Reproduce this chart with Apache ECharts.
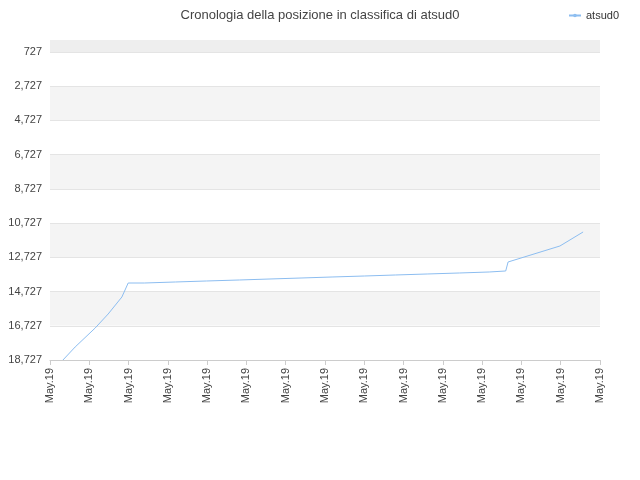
<!DOCTYPE html>
<html><head><meta charset="utf-8">
<script src="https://cdn.jsdelivr.net/npm/echarts@6/dist/echarts.min.js"></script>
</head><body style="margin:0">
<div id="c" style="width:640px;height:480px"></div>
<script>
var tickLabels = ["May.19","May.19","May.19","May.19","May.19","May.19","May.19","May.19","May.19","May.19","May.19","May.19","May.19","May.19","May.19"];
var xs = [0.33,0.64,1.15,1.48,1.83,1.99,2.4,2.42,3.19,3.21,3.98,4.0,4.82,4.84,5.6,5.62,6.39,6.41,7.18,7.2,8.0,8.02,8.79,8.81,9.6,9.62,10.42,10.44,11.18,11.2,11.6,11.66,12.98,13.57];
var ranks = [18727,17967,16857,16039,15045,14227,14227,14168,14168,14110,14110,14051,14051,13993,13993,13935,13935,13876,13876,13818,13818,13759,13759,13701,13701,13642,13642,13584,13584,13525,13525,12999,12064,11246];
var data = xs.map(function (x, i) { return [x, ranks[i]]; });
var chart = echarts.init(document.getElementById("c"));
chart.setOption({
	title: {text: "Cronologia della posizione in classifica di atsud0", left: "center", top: 4, textStyle: {fontSize: 13, fontWeight: "normal", color: "#444"}},
	legend: {right: 16, top: 5, data: ["atsud0"], itemWidth: 12, itemHeight: 2, textStyle: {fontSize: 11, color: "#333"}},
	grid: {left: 50, right: 40, top: 52, bottom: 120},
	graphic: [{type: "rect", shape: {x: 50, y: 40, width: 550, height: 12}, style: {fill: "#eeeeee"}}],
	xAxis: {
		type: "value", min: 0, max: 14, interval: 1,
		axisLine: {lineStyle: {color: "#ccc"}}, axisTick: {show: true, lineStyle: {color: "#ccc"}},
		splitLine: {show: false},
		axisLabel: {rotate: 90, color: "#444", fontSize: 11, formatter: function (v) { return tickLabels[v] || ""; }}
	},
	yAxis: {
		type: "value", inverse: true, min: 727, max: 18727, interval: 2000,
		axisLine: {show: false}, axisTick: {show: false},
		axisLabel: {color: "#444", fontSize: 11},
		splitLine: {lineStyle: {color: "#e4e4e4"}},
		splitArea: {show: true, areaStyle: {color: ["#ffffff", "#f4f4f4"]}}
	},
	series: [{name: "atsud0", type: "line", data: data, showSymbol: false, lineStyle: {width: 1, color: "#8cbdf0"}, itemStyle: {color: "#8cbdf0"}}]
});
</script></body></html>
